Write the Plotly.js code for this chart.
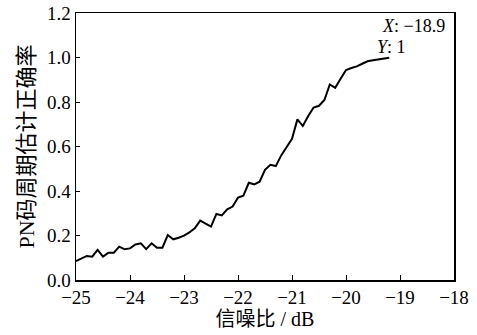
<!DOCTYPE html>
<html>
<head>
<meta charset="utf-8">
<script src="https://cdn.plot.ly/plotly-3.0.1.min.js"></script>
<style>html,body{margin:0;padding:0;background:#fff;}#chart{width:477px;height:335px;}</style>
</head>
<body>
<div id="chart"></div>
<script>
const snr = [-25.0,-24.9,-24.8,-24.7,-24.6,-24.5,-24.4,-24.3,-24.2,-24.1,-24.0,-23.9,-23.8,-23.7,-23.6,-23.5,-23.4,-23.3,-23.2,-23.1,-23.0,-22.9,-22.8,-22.7,-22.6,-22.5,-22.4,-22.3,-22.2,-22.1,-22.0,-21.9,-21.8,-21.7,-21.6,-21.5,-21.4,-21.3,-21.2,-21.1,-21.0,-20.9,-20.8,-20.7,-20.6,-20.5,-20.4,-20.3,-20.2,-20.1,-20.0,-19.9,-19.8,-19.7,-19.6,-19.5,-19.4,-19.3,-19.2];
const accuracy = [0.085,0.097,0.108,0.105,0.135,0.105,0.123,0.123,0.150,0.138,0.142,0.160,0.165,0.139,0.165,0.145,0.145,0.202,0.183,0.190,0.199,0.214,0.232,0.267,0.252,0.240,0.297,0.290,0.318,0.330,0.370,0.379,0.437,0.430,0.442,0.495,0.518,0.512,0.560,0.595,0.635,0.722,0.692,0.737,0.775,0.783,0.809,0.879,0.864,0.905,0.944,0.953,0.960,0.972,0.983,0.988,0.991,0.995,0.999];
const xTitle = '信噪比 / dB';
const yTitle = 'PN码周期估计正确率';
const tipX = '<i>X</i>: −18.9';
const tipY = '<i>Y</i>: 1';

const fontFam = '"Liberation Serif", "Times New Roman", "Noto Sans CJK SC", serif';

Plotly.newPlot('chart', [{
  x: snr, y: accuracy, type: 'scatter', mode: 'lines',
  line: {color: '#000', width: 2}, hoverinfo: 'skip'
}], {
  width: 477, height: 335,
  margin: {l: 76, r: 23, t: 13, b: 55},
  paper_bgcolor: '#fff', plot_bgcolor: '#fff',
  showlegend: false,
  font: {family: fontFam, size: 19, color: '#000'},
  xaxis: {
    range: [-25, -18], dtick: 1, tick0: -25,
    ticks: 'inside', ticklen: 5, tickwidth: 1, tickcolor: '#000',
    showline: true, linecolor: '#000', linewidth: 1.5, mirror: true,
    showgrid: false, zeroline: false, automargin: false,
    tickfont: {family: fontFam, size: 19},
    title: {text: xTitle, font: {family: fontFam, size: 20}, standoff: 4}
  },
  yaxis: {
    range: [0, 1.2], dtick: 0.2, tick0: 0, tickformat: '.1f',
    ticks: 'inside', ticklen: 4, tickwidth: 1, tickcolor: '#000',
    showline: true, linecolor: '#000', linewidth: 1.5, mirror: true,
    showgrid: false, zeroline: false, automargin: false,
    tickfont: {family: fontFam, size: 19},
    title: {text: yTitle, font: {family: fontFam, size: 22}, standoff: 6}
  },
  annotations: [
    {xref: 'paper', yref: 'paper', x: 0.981, y: 0.951, xanchor: 'right', yanchor: 'middle',
     text: tipX, showarrow: false, font: {family: fontFam, size: 18}},
    {xref: 'paper', yref: 'paper', x: 0.791, y: 0.873, xanchor: 'left', yanchor: 'middle',
     text: tipY, showarrow: false, font: {family: fontFam, size: 18}}
  ]
}, {staticPlot: true});
</script>
</body>
</html>
